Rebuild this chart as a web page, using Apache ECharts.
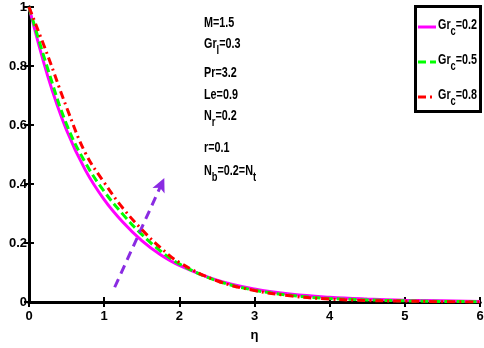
<!DOCTYPE html>
<html><head><meta charset="utf-8">
<script src="https://cdn.jsdelivr.net/npm/echarts@6/dist/echarts.min.js"></script>
<style>html,body{margin:0;padding:0;background:#fff}#c{width:484px;height:348px}</style>
</head><body><div id="c"></div>
<script>
// eta grid and f'(eta) values
const eta    = [0, 0.25, 0.5, 0.75, 1, 1.25, 1.5, 1.75, 2, 2.5, 3, 3.5, 4, 4.5, 5, 5.5, 6];
const grc02  = [1, 0.765, 0.582, 0.447, 0.347, 0.270, 0.208, 0.160, 0.124, 0.074, 0.044, 0.026, 0.016, 0.010, 0.006, 0.004, 0.002];
const grc05  = [1, 0.790, 0.602, 0.472, 0.375, 0.297, 0.229, 0.173, 0.129, 0.072, 0.040, 0.022, 0.012, 0.007, 0.004, 0.002, 0.001];
const grc08  = [1, 0.835, 0.660, 0.505, 0.405, 0.318, 0.246, 0.184, 0.134, 0.072, 0.039, 0.020, 0.010, 0.005, 0.003, 0.001, 0.000];
const seriesNames = ['Gr_c=0.2', 'Gr_c=0.5', 'Gr_c=0.8'];
const legendParts = [['Gr', 'c', '=0.2'], ['Gr', 'c', '=0.5'], ['Gr', 'c', '=0.8']];
const xTicks = [0, 1, 2, 3, 4, 5, 6];
const yTicks = [0, 0.2, 0.4, 0.6, 0.8, 1];
const arrowStart = [1.14, 0.05];
const arrowEnd   = [1.80, 0.42];
const paramLines = [['M=1.5'], ['Gr', 'l', '=0.3'], ['Pr=3.2'], ['Le=0.9'], ['N', 'r', '=0.2'], ['r=0.1'], ['N', 'b', '=0.2=N', 't']];

const FONT = '"Liberation Sans", Arial, sans-serif';
const pairs = ys => eta.map((e, i) => [e, ys[i]]);
const colors = ['#ff00ff', '#00ff00', '#ff0000'];
const dashes = ['solid', [8, 4], [8, 4, 2, 4]];

function richLine(parts) {
  let s = '';
  parts.forEach((p, i) => { s += (i % 2 === 0) ? '{m|' + p + '}' : '{s|' + p + '}'; });
  return s;
}
const richStyles = {
  m: { fontFamily: FONT, fontWeight: 'bold', fontSize: 15, lineHeight: 16, color: '#000' },
  s: { fontFamily: FONT, fontWeight: 'bold', fontSize: 13, lineHeight: 16, color: '#000', padding: [12, 0, 0, 0] }
};
const paramY = [23, 44, 73, 95, 116, 148, 171];
const legendY = [25, 60, 95];

const chart = echarts.init(document.getElementById('c'), null, { renderer: 'canvas' });
const axisLine = { show: true, lineStyle: { color: '#000', width: 3 } };
const tick = { show: true, inside: true, length: 5, lineStyle: { color: '#000', width: 2 } };
const labelStyle = { fontFamily: FONT, fontWeight: 'bold', fontSize: 13, color: '#000' };

const graphics = [
  { type: 'rect', shape: { x: 415.5, y: 6.5, width: 65, height: 105 }, style: { fill: 'none', stroke: '#000', lineWidth: 3 }, z: 100 }
];
paramLines.forEach((p, i) => graphics.push({
  type: 'text', x: 204, y: paramY[i], z: 100, scaleX: 0.72,
  style: { text: richLine(p), rich: richStyles, verticalAlign: 'middle', align: 'left' }
}));
legendParts.forEach((p, i) => {
  graphics.push({ type: 'line', z: 100, shape: { x1: 418, y1: legendY[i] + 2, x2: 436, y2: legendY[i] + 2 },
    style: { stroke: colors[i], lineWidth: 3, lineDash: dashes[i] === 'solid' ? null : dashes[i] } });
  graphics.push({ type: 'text', x: 438, y: legendY[i], z: 100, scaleX: 0.72,
    style: { text: richLine(p), rich: richStyles, verticalAlign: 'middle', align: 'left' } });
});

chart.setOption({
  animation: false,
  backgroundColor: '#fff',
  grid: { left: 29, right: 4, top: 7, bottom: 46, containLabel: false, outerBoundsMode: 'none' },
  xAxis: [
    { type: 'value', min: 0, max: 6, interval: 1, position: 'bottom',
      axisLine, axisTick: tick, splitLine: { show: false },
      axisLabel: Object.assign({ margin: 8 }, labelStyle),
      name: 'η', nameLocation: 'middle', nameGap: 27,
      nameTextStyle: { fontFamily: FONT, fontWeight: 'bold', fontSize: 13, color: '#000' } },
    { type: 'value', min: 0, max: 6, interval: 1, position: 'top',
      axisLine, axisTick: tick, axisLabel: { show: false }, splitLine: { show: false } }
  ],
  yAxis: [
    { type: 'value', min: 0, max: 1, interval: 0.2, position: 'left',
      axisLine, axisTick: tick, splitLine: { show: false },
      axisLabel: Object.assign({ margin: 2, formatter: v => String(+v.toFixed(1)) }, labelStyle),
      name: "f '(η)", nameLocation: 'middle', nameGap: 19, nameRotate: 90,
      nameTextStyle: { fontFamily: FONT, fontWeight: 'bold', fontSize: 13, color: '#000' } },
    { type: 'value', min: 0, max: 1, interval: 0.2, position: 'right',
      axisLine, axisTick: tick, axisLabel: { show: false }, splitLine: { show: false } }
  ],
  legend: { show: false, data: seriesNames },
  graphic: graphics,
  series: seriesNames.map((n, i) => {
    const s = { name: n, type: 'line', data: pairs([grc02, grc05, grc08][i]), smooth: 0.4, showSymbol: false, symbol: 'none',
      lineStyle: { color: colors[i], width: 3, type: dashes[i] }, itemStyle: { color: colors[i] }, z: 3 + i };
    if (i === 2) s.markLine = { silent: true, symbol: ['none', 'arrow'], symbolSize: [10, 14], label: { show: false },
      lineStyle: { color: '#8a2be2', width: 3, type: [9, 6] },
      data: [[{ coord: arrowStart }, { coord: arrowEnd }]] };
    return s;
  })
});
</script></body></html>
